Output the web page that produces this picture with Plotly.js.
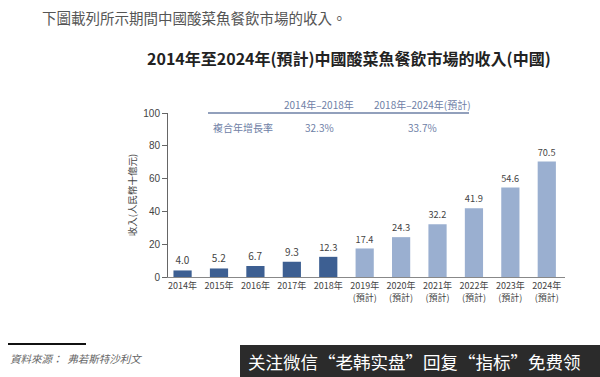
<!DOCTYPE html>
<html><head><meta charset="utf-8">
<script src="https://cdn.plot.ly/plotly-3.0.1.min.js"></script>
<style>html,body{margin:0;padding:0;background:#fff}#c{width:600px;height:377px}</style>
</head><body><div id="c"></div>
<script>
const categories = ["2014年","2015年","2016年","2017年","2018年","2019年<br>(預計)","2020年<br>(預計)","2021年<br>(預計)","2022年<br>(預計)","2023年<br>(預計)","2024年<br>(預計)"];
const revenue = [4.0,5.2,6.7,9.3,12.3,17.4,24.3,32.2,41.9,54.6,70.5];
const historicalCount = 5;
const cagrPeriods = ["2014年–2018年","2018年–2024年(預計)"];
const cagrValues = ["32.3%","33.7%"];
const yTicks = [0,20,40,60,80,100];

const L=168,R=565,T=113,B=277;
const px = x => (x-L)/(R-L);
const py = y => (B-y)/(B-T);
const F = '"Noto Sans CJK TC","Noto Sans CJK SC",Arial,sans-serif';

const colors = revenue.map((v,i)=> i<historicalCount ? '#3d5f92' : '#9aafd0');

const trace = {
  type:'bar', x:categories, y:revenue, marker:{color:colors}, width:0.5,
  text:revenue.map(v=>v.toFixed(1)), textposition:'outside', cliponaxis:false,
  textfont:{family:F,size:10,color:'#444'}, hoverinfo:'none'
};

const ann = [
  {text:'下圖載列所示期間中國酸菜魚餐飲市場的收入。', x:px(40), y:py(18), xanchor:'left', yanchor:'middle', font:{size:14.5,color:'#555',family:F}},
  {text:'<b>2014年至2024年(預計)中國酸菜魚餐飲市場的收入(中國)</b>', x:px(349), y:py(58), xanchor:'center', yanchor:'middle', font:{size:16,color:'#222',family:F}},
  {text:cagrPeriods[0], x:px(319), y:py(104), xanchor:'center', yanchor:'middle', font:{size:10,color:'#6e80a6',family:F}},
  {text:cagrPeriods[1], x:px(422), y:py(104), xanchor:'center', yanchor:'middle', font:{size:10,color:'#6e80a6',family:F}},
  {text:'複合年增長率', x:px(211), y:py(127), xanchor:'left', yanchor:'middle', font:{size:10,color:'#6e80a6',family:F}},
  {text:cagrValues[0], x:px(319), y:py(127), xanchor:'center', yanchor:'middle', font:{size:10,color:'#6e80a6',family:F}},
  {text:cagrValues[1], x:px(422), y:py(127), xanchor:'center', yanchor:'middle', font:{size:10,color:'#6e80a6',family:F}},
  {text:'<i>資料來源：  弗若斯特沙利文</i>', x:px(8), y:py(358), xanchor:'left', yanchor:'middle', font:{size:10.5,color:'#666',family:F}},
  {text:'关注微信“老韩实盘”回复“指标”免费领', x:px(246), y:py(361), xanchor:'left', yanchor:'middle', font:{size:17.5,color:'#fff',family:F}}
].map(a=>Object.assign({xref:'paper',yref:'paper',showarrow:false},a));

const shapes = [
  {type:'line', x0:px(208), x1:px(469), y0:py(113), y1:py(113), line:{color:'#6e80a6',width:1.5}},
  {type:'line', x0:px(8), x1:px(86), y0:py(344), y1:py(344), line:{color:'#111',width:2}},
  {type:'rect', x0:px(240), x1:px(601), y0:py(345), y1:py(378), fillcolor:'#2b2b2b', line:{width:0}}
].map(s=>Object.assign({xref:'paper',yref:'paper'},s));

const layout = {
  width:600, height:377, margin:{l:L,r:600-R,t:T,b:377-B}, showlegend:false,
  paper_bgcolor:'#fff', plot_bgcolor:'#fff', bargap:0.5,
  xaxis:{type:'category', range:[-0.4,10.5], showline:true, linecolor:'#888', linewidth:1, ticks:'', showgrid:false, zeroline:false,
    tickfont:{family:F,size:9,color:'#444'}, fixedrange:true},
  yaxis:{range:[0,100], tickvals:yTicks, showline:true, linecolor:'#666', linewidth:1, ticks:'outside', ticklen:5, tickcolor:'#666',
    showgrid:false, zeroline:false, tickfont:{family:'Arial',size:10,color:'#444'},
    title:{text:'收入(人民幣十億元)', font:{family:F,size:9.5,color:'#444'}, standoff:4}},
  annotations:ann, shapes:shapes
};
Plotly.newPlot('c',[trace],layout,{staticPlot:true});
</script></body></html>
